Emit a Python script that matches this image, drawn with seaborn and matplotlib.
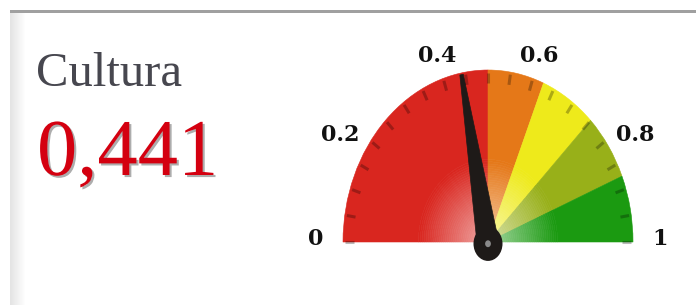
import numpy as np
import matplotlib
matplotlib.use("Agg")
import matplotlib.pyplot as plt
import matplotlib.colors as mcolors
import matplotlib.patheffects as pe
from matplotlib.patches import Wedge, Polygon, Circle, Rectangle
import seaborn as sns

# gauge data
title = "Cultura"
value = 0.441
value_label = "0,441"

band_edges = [0.0, 0.5, 0.625, 0.75, 0.875, 1.0]
band_colors = ["#d9261f", "#e57818", "#eeea1b", "#98b019", "#1b9a11"]

label_values = [0, 0.2, 0.4, 0.6, 0.8, 1]
tick_labels = ["0", "0.2", "0.4", "0.6", "0.8", "1"]
minor_step = 0.05

W, H = 696, 305
sns.set_theme(style="white")
plt.rcParams["font.family"] = ["Liberation Serif", "DejaVu Serif"]

fig = plt.figure(figsize=(W / 100, H / 100), dpi=100)

# background card (pixel coordinates)
bg = fig.add_axes([0, 0, 1, 1])
grad = np.linspace(0, 1, 16)[None, :]
bg.imshow(grad, cmap=sns.blend_palette(["#e4e4e4", "#ffffff"], as_cmap=True),
          extent=(10, 26, H, 13), aspect="auto")
bg.add_patch(Rectangle((10, 10), W - 10, 3, color="#a0a0a0", lw=0))
bg.set_xlim(0, W)
bg.set_ylim(H, 0)
bg.axis("off")

bg.text(36, 86, title, fontsize=35, color="#47474f", va="baseline")
bg.text(37, 175, value_label, fontsize=58, color="#d40010", va="baseline",
        path_effects=[pe.withSimplePatchShadow(offset=(1.5, -1.5),
                                               shadow_rgbFace="#8a8a8a", alpha=0.7)])

# gauge axes: stretched vertically like the original
cx, cy, rx, ry = 488, 242, 145, 172
xl, yb, yt = 1.35, -0.25, 1.25
ax = fig.add_axes([(cx - xl * rx) / W, (H - (cy - yb * ry)) / H,
                   2 * xl * rx / W, (yt - yb) * ry / H])
ax.set_xlim(-xl, xl)
ax.set_ylim(yb, yt)
ax.axis("off")
ax.patch.set_alpha(0)

fade_r = 0.48
n_rings = 36
for lo, hi, c in zip(band_edges[:-1], band_edges[1:], band_colors):
    t1, t2 = 180 * (1 - hi), 180 * (1 - lo)
    ax.add_patch(Wedge((0, 0), 1.0, t1, t2, width=1.0 - fade_r, fc=c, ec=c, lw=0.4))
    pale = np.array(mcolors.to_rgb(c)) * 0.4 + 0.6
    pal = sns.blend_palette([pale, c], n_rings)
    for i in range(n_rings):
        r_out = fade_r * (i + 1) / n_rings
        ax.add_patch(Wedge((0, 0), r_out, t1, t2, width=fade_r / n_rings,
                           fc=pal[i], ec=pal[i], lw=0.4))

# minor ticks
for v in np.arange(0, 1 + 1e-9, minor_step):
    th = np.pi * (1 - v)
    ax.plot([0.925 * np.cos(th), 0.985 * np.cos(th)],
            [0.925 * np.sin(th), 0.985 * np.sin(th)],
            color="black", alpha=0.27, lw=2.2, solid_capstyle="butt")

# labels
for v, lab in zip(label_values, tick_labels):
    th = np.pi * (1 - v)
    c, s = np.cos(th), np.sin(th)
    hw = 0.07 * len(lab)
    x = c * (1.12 + hw * c * c)
    y = 0.017 + 0.884 * s + 0.246 * s * s
    ax.text(x, y, lab, ha="center", va="center", fontsize=16, fontweight="bold",
            family=["DejaVu Serif"], color="#111111")

# needle
th = np.pi * (1 - value)
d = np.array([np.cos(th), np.sin(th)])
p = np.array([-np.sin(th), np.cos(th)])
base = np.array([0, -0.01])
tip = 0.99 * d
ax.add_patch(Polygon([base + 0.075 * p, tip + 0.012 * p, tip - 0.012 * p, base - 0.075 * p],
                     closed=True, fc="#1e1a18", ec="#1e1a18", lw=0.5))
ax.add_patch(Circle(base, 0.1, fc="#1e1a18", ec="none"))
ax.add_patch(Circle(base, 0.02, fc="#8a8a8a", ec="none"))

fig.savefig("out.png", dpi=100)
